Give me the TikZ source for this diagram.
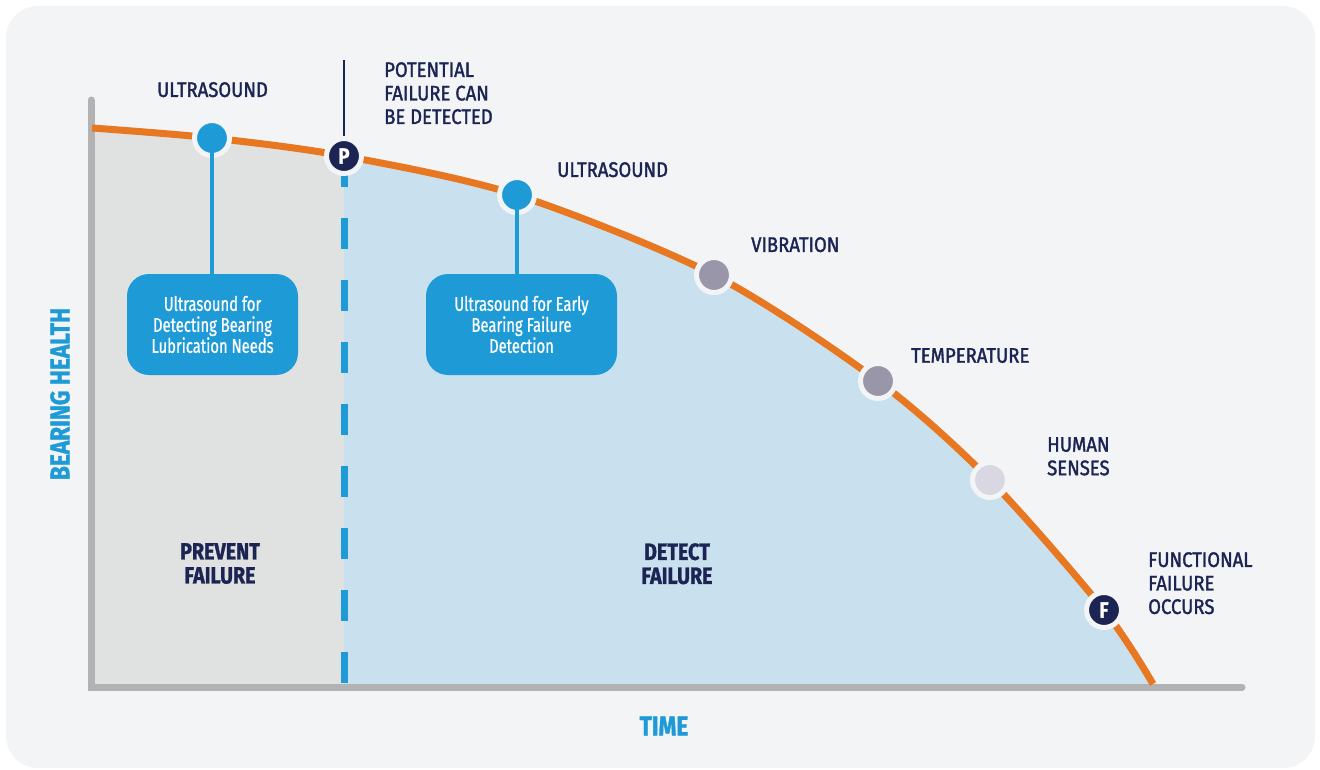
\documentclass[tikz,border=0pt]{standalone}
\usepackage{fontspec}
\setmainfont{Fira Sans}
\newfontfamily\labf{Fira Sans}[FakeStretch=0.88,FakeBold=1.6]
\newfontfamily\heavyf{Fira Sans Bold}[FakeStretch=0.84,FakeBold=1.2]
\newfontfamily\boxf{Fira Sans}[FakeStretch=0.74,FakeBold=0.8]
\definecolor{bgc}{HTML}{F3F4F6}
\definecolor{greyfill}{HTML}{E0E1E1}
\definecolor{bluefill}{HTML}{C9E1EE}
\definecolor{accent}{HTML}{1E9BD7}
\definecolor{navy}{HTML}{1B2453}
\definecolor{orange}{HTML}{E87722}
\definecolor{axisgrey}{HTML}{B2B2B2}
\definecolor{dotgrey}{HTML}{9A96AA}
\definecolor{dotlight}{HTML}{D9D7E1}
\tikzset{
  axisline/.style={draw=axisgrey, line width=7pt, line cap=round},
  curveline/.style={draw=orange, line width=7pt},
  dashline/.style={draw=accent, line width=7pt, dash pattern=on 31pt off 31pt},
  dot/.style={circle, draw=bgc, line width=5pt, minimum size=35pt, inner sep=0pt},
  letterdot/.style={dot, fill=navy, text=white, font=\heavyf\fontsize{22}{22}\selectfont},
  conn/.style={draw=accent, line width=4pt},
  infobox/.style={fill=accent, rounded corners=22pt, text=white, align=center,
    font=\boxf\fontsize{20}{21}\selectfont, inner sep=0pt},
  lab/.style={text=navy, font=\labf\fontsize{21}{23.5}\selectfont, inner sep=0pt, align=left},
  zone/.style={text=navy, font=\heavyf\fontsize{23.5}{24}\selectfont, inner sep=0pt, align=center},
  axlab/.style={text=accent, font=\heavyf\fontsize{27}{28}\selectfont, inner sep=0pt}
}
\begin{document}
\begin{tikzpicture}[x=1pt,y=-1pt]
\useasboundingbox (0,0) rectangle (1320,770);
\fill[white] (0,0) rectangle (1320,770);
\fill[bgc, rounded corners=32pt] (6,6) rectangle (1315,768);
% zone fills
\begin{scope}
  \clip (0,0) rectangle (344,770);
  \fill[greyfill] plot[smooth] coordinates {(92,128) (212,138) (344,156) (517,195) (714,275) (878,381) (990,480) (1104,610) (1153,684)} -- (92,687) -- cycle;
\end{scope}
\begin{scope}
  \clip (344,0) rectangle (1320,770);
  \fill[bluefill] plot[smooth] coordinates {(92,128) (212,138) (344,156) (517,195) (714,275) (878,381) (990,480) (1104,610) (1153,684)} -- (92,687) -- cycle;
\end{scope}
% axes
\coordinate (ytop) at (91,100);
\coordinate (origin) at (91,687);
\coordinate (xend) at (1242,687);
\draw[axisline] (ytop) -- (origin) -- (xend);
% P markers
\coordinate (pbot) at (344,687);
\coordinate (ptop) at (344,60);
\node[letterdot] (P) at (344,156) {};
\draw[dashline] (P.center) -- (pbot);
\draw[draw=navy, line width=2.5pt] (ptop) -- (P.center);
% curve
\draw[curveline] plot[smooth] coordinates {(92,128) (212,138) (344,156) (517,195) (714,275) (878,381) (990,480) (1104,610) (1153,684)};
% boxes
\node[infobox, minimum width=171pt, minimum height=101pt] (b1) at (212.5,324.5) {Ultrasound for\\Detecting Bearing\\Lubrication Needs};
\node[infobox, minimum width=191pt, minimum height=101pt] (b2) at (521.5,324.5) {Ultrasound for Early\\Bearing Failure\\Detection};
% dots
\node[dot, fill=accent] (u1) at (212,138) {};
\node[dot, fill=accent] (u2) at (517,195) {};
\draw[conn] (u1.center) -- (u1.center |- b1.north);
\draw[conn] (u2.center) -- (u2.center |- b2.north);
\node[letterdot] (P2) at (344,156) {P};
\node[dot, fill=dotgrey] (vib) at (714,275) {};
\node[dot, fill=dotgrey] (temp) at (878,381) {};
\node[dot, fill=dotlight] (hum) at (990,480) {};
\node[letterdot] (F) at (1104,610) {F};
% labels
\node[lab, anchor=north] (tu1) at (212.5,82) {ULTRASOUND};
\node[lab, anchor=north west] (tpot) at (384,62) {POTENTIAL\\FAILURE CAN\\BE DETECTED};
\node[lab, anchor=north west] (tu2) at (557,162) {ULTRASOUND};
\node[lab, anchor=north west] (tvib) at (751,237) {VIBRATION};
\node[lab, anchor=north west] (ttemp) at (911,348) {TEMPERATURE};
\node[lab, anchor=north west] (thum) at (1047,437) {HUMAN\\SENSES};
\node[lab, anchor=north west] (tfun) at (1148,552) {FUNCTIONAL\\FAILURE\\OCCURS};
\node[zone, anchor=north] (prev) at (220,543) {PREVENT\\FAILURE};
\node[zone, anchor=north] (det) at (677,543) {DETECT\\FAILURE};
\node[axlab] (time) at (664,726) {TIME};
\node[axlab, rotate=90] (bh) at (60,394) {BEARING HEALTH};
\end{tikzpicture}
\end{document}
